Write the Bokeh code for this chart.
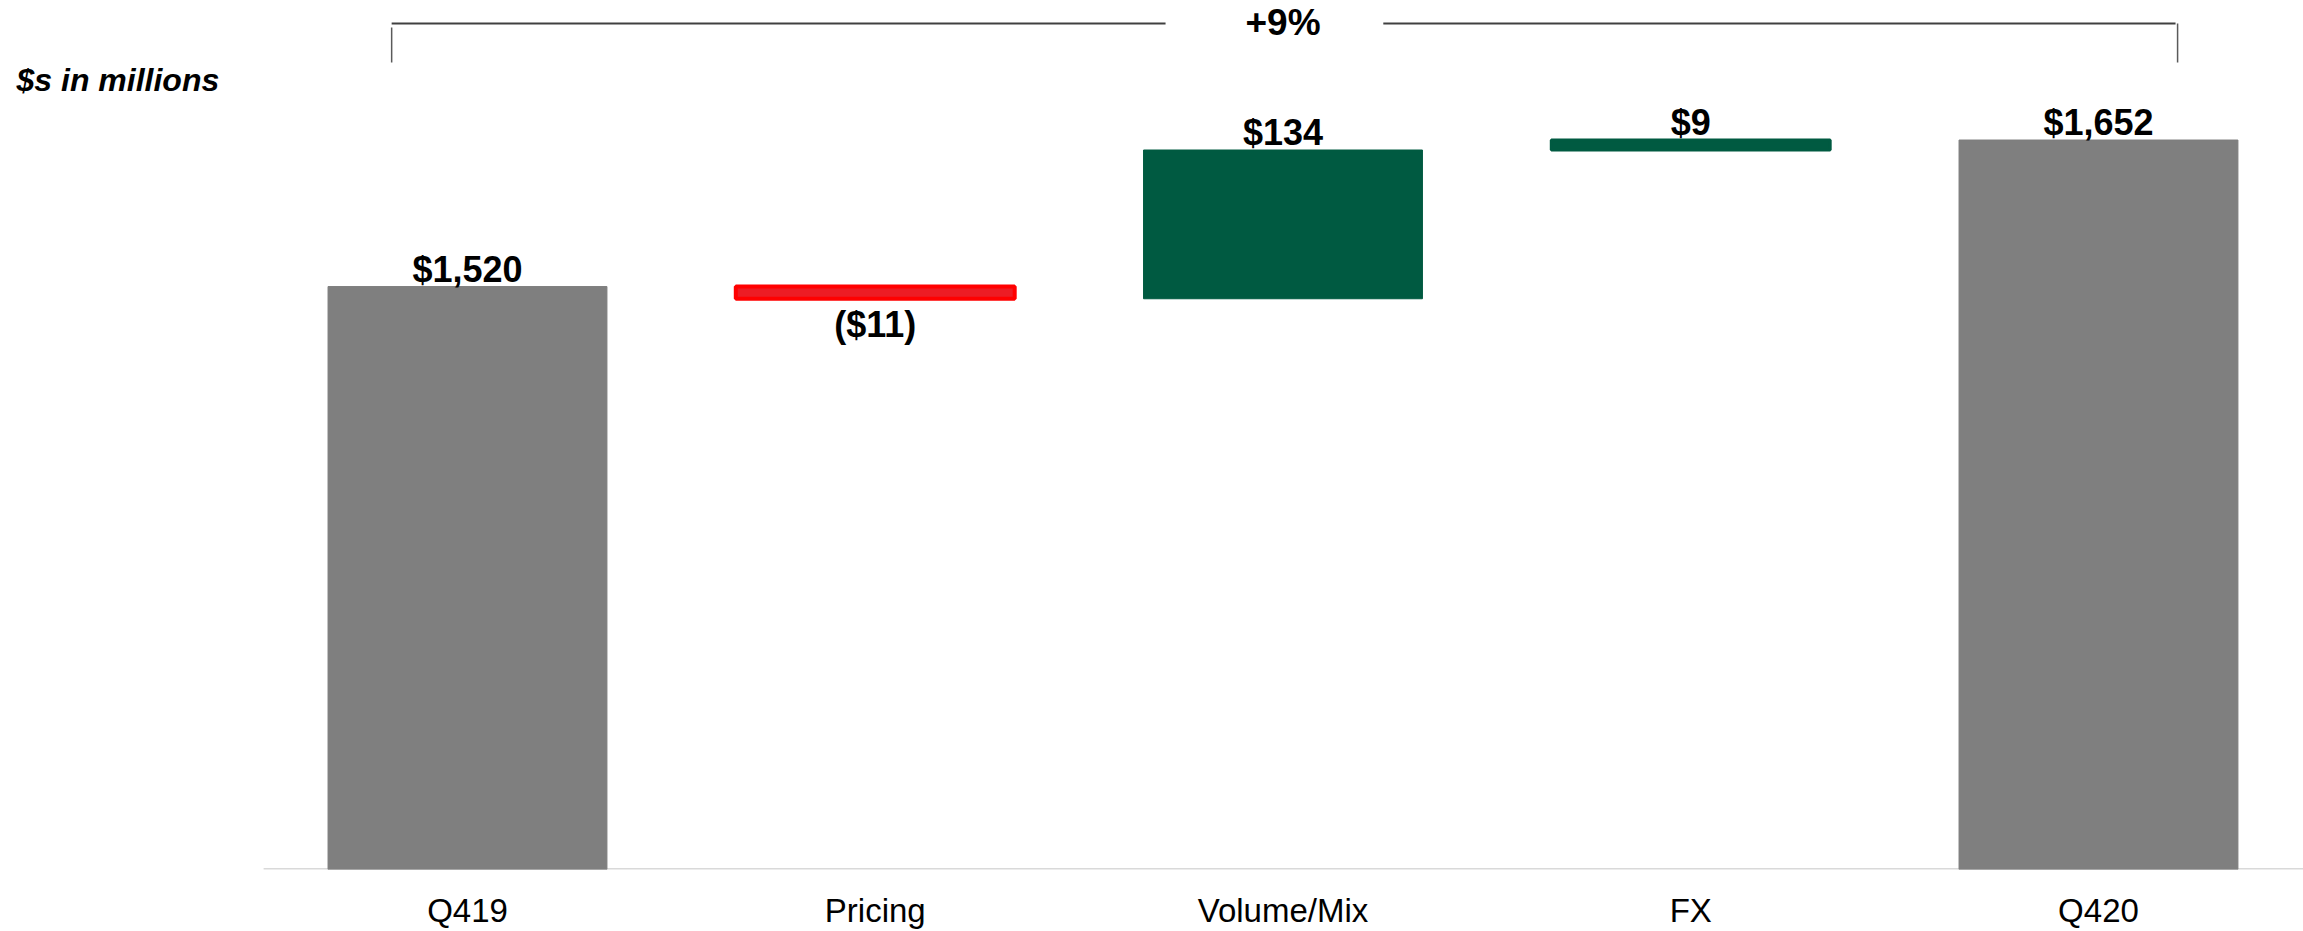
from bokeh.plotting import figure
from bokeh.models import Range1d, ColumnDataSource, Label, FixedTicker
from bokeh.core.properties import value
from bokeh.embed import file_html
from bokeh.resources import INLINE

# ---- data ----
categories = ["Q419", "Pricing", "Volume/Mix", "FX", "Q420"]
amounts = [1520, -11, 134, 9, 1652]
kinds = ["total", "delta", "delta", "delta", "total"]
value_labels = ["$1,520", "($11)", "$134", "$9", "$1,652"]
growth_label = "+9%"
unit_note = "$s in millions"

FONT = value("Liberation Sans")
GRAY, GREEN, RED, RED_EDGE = "#7f7f7f", "#005a41", "#ed1c24", "#ff0000"

Y_START, Y_END = 994.8, 1777.7
X_START, X_END = -1.1453, 4.5028

# category positions on the x scale (one slot per category)
pos = list(range(len(categories)))

# ---- waterfall geometry from the data ----
bottoms, tops, fills, edges, lys, loffs = [], [], [], [], [], []
running = 0
for a, k in zip(amounts, kinds):
    if k == "total":
        b, t = Y_START, a
        running = a
        fills.append(GRAY); edges.append(GRAY)
    else:
        new = running + a
        b, t = min(running, new), max(running, new)
        running = new
        if a >= 0:
            fills.append(GREEN); edges.append(GREEN)
        else:
            fills.append(RED); edges.append(RED_EDGE)
    bottoms.append(b); tops.append(t)
    if k == "delta" and a < 0:
        lys.append(b); loffs.append(26)
    else:
        lys.append(t); loffs.append(-17.5)

src = ColumnDataSource(dict(x=pos, cat=categories, bottom=bottoms, top=tops, fill=fills,
                            edge=edges, ly=lys, loff=loffs, label=value_labels,
                            lw=[1, 4, 1, 3, 1]))

p = figure(x_range=Range1d(X_START, X_END), y_range=Range1d(Y_START, Y_END),
           width=2303, height=931, output_backend="svg", toolbar_location=None,
           y_axis_location=None, min_border_left=0, min_border_right=0,
           min_border_top=0, min_border_bottom=10)
p.outline_line_color = None
p.grid.visible = False
p.background_fill_color = "white"

# baseline (category axis line), spanning the category slots
p.segment(x0=[pos[0] - 0.5], x1=[X_END], y0=[Y_START + 0.45], y1=[Y_START + 0.45],
          line_color="#d9d9d9", line_width=2)

p.vbar(x="x", bottom="bottom", top="top", width=0.684, fill_color="fill",
       line_color="edge", line_width="lw", source=src)

p.text(x="x", y="ly", text="label", y_offset="loff", source=src,
       text_font=FONT, text_font_style="bold", text_font_size="36px",
       text_align="center", text_baseline="middle", text_color="black")

# ---- bracket showing total growth ----
BR_TOP, BR_TICK_TOP_L, BR_TICK_BOT = 1757.0, 1753.4, 1721.8
left, mid, right = pos[0] - 0.186, pos[2], pos[-1] + 0.194
p.segment(x0=[left, mid + 0.246], x1=[mid - 0.288, right - 0.005],
          y0=[BR_TOP, BR_TOP], y1=[BR_TOP, BR_TOP], line_color="#404040", line_width=2)
p.segment(x0=[left, right], x1=[left, right], y0=[BR_TICK_TOP_L, BR_TOP],
          y1=[BR_TICK_BOT, BR_TICK_BOT], line_color="#5a5a5a", line_width=1.5)
p.text(x=[mid], y=[BR_TOP], text=[growth_label], y_offset=-1,
       text_font=FONT, text_font_style="bold", text_font_size="37px",
       text_align="center", text_baseline="middle", text_color="black")

p.add_layout(Label(x=16, y=789.5, x_units="screen", y_units="screen", text=unit_note,
                   text_font="Liberation Sans", text_font_style="bold italic",
                   text_font_size="32px", text_baseline="middle", text_color="black"))

# ---- axis ----
ax = p.xaxis[0]
ax.ticker = FixedTicker(ticks=pos)
ax.major_label_overrides = {i: c for i, c in zip(pos, categories)}
ax.axis_line_color = None
ax.major_tick_line_color = None
ax.minor_tick_line_color = None
ax.major_label_text_font = "Liberation Sans"
ax.major_label_text_font_size = "33px"
ax.major_label_text_color = "black"
ax.major_label_standoff = 16

open("out.html", "w").write(file_html(p, INLINE))
